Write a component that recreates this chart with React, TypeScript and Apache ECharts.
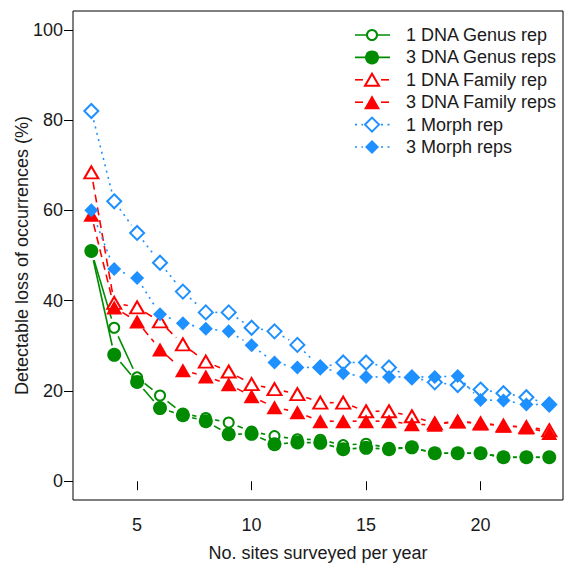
import React, { useEffect, useRef } from "react";
import * as echarts from "echarts";

const sitesPerYear = [3, 4, 5, 6, 7, 8, 9, 10, 11, 12, 13, 14, 15, 16, 17, 18, 19, 20, 21, 22, 23];
const genus1Rep = [51, 34, 23, 19, 15, 14, 13, 11, 10, 9.3, 9.2, 8, 8.3, 7.4, 7.4, 6.2, 6.2, 6.2, 5.3, 5.3, 5.3];
const genus3Reps = [51, 28, 22, 16.2, 14.6, 13.3, 10.4, 10.5, 8.2, 8.6, 8.5, 7.1, 7.4, 7.1, 7.5, 6.2, 6.2, 6.2, 5.3, 5.3, 5.3];
const family1Rep = [68.4, 39.5, 38.5, 35.4, 30.3, 26.5, 24.3, 21.5, 20.4, 19.3, 17.4, 17.4, 15.5, 15.5, 14.4, 12.8, 13.2, 12.8, 12.3, 12, 11.3];
const family3Reps = [59, 38.5, 35.4, 29.2, 24.6, 23.2, 21.5, 18.8, 16.4, 15.3, 13.3, 13.3, 13.3, 13.3, 12.6, 12.5, 13.3, 12.8, 12.3, 11.9, 10.7];
const morph1Rep = [82, 62, 55, 48.4, 42, 37.4, 37.4, 34, 33.2, 30.2, 25.2, 26.3, 26.3, 25.2, 23, 21.9, 21.3, 20.3, 19.5, 18.6, 17];
const morph3Reps = [60, 47, 45, 37, 35, 33.8, 33.2, 30.1, 26.3, 25.2, 25.2, 23.9, 23.1, 23.1, 23.1, 23.1, 23.3, 18, 17.9, 17, 17];

const xTicks = [5, 10, 15, 20];
const yTicks = [0, 20, 40, 60, 80, 100];

const GREEN = "#008B00";
const RED = "#FF0000";
const BLUE = "#1E90FF";
const TEXT = "#1a1a1a";
const FONT = 'Arial, "Liberation Sans", Helvetica, sans-serif';
const FS = 18;

type Spec = {
  name: string;
  values: number[];
  color: string;
  marker: "circle" | "triangle" | "diamond";
  filled: boolean;
  dash: number[] | null;
};

const specs: Spec[] = [
  { name: "1 DNA Genus rep", values: genus1Rep, color: GREEN, marker: "circle", filled: false, dash: null },
  { name: "3 DNA Genus reps", values: genus3Reps, color: GREEN, marker: "circle", filled: true, dash: null },
  { name: "1 DNA Family rep", values: family1Rep, color: RED, marker: "triangle", filled: false, dash: [8, 5] },
  { name: "3 DNA Family reps", values: family3Reps, color: RED, marker: "triangle", filled: true, dash: [8, 5] },
  { name: "1 Morph rep", values: morph1Rep, color: BLUE, marker: "diamond", filled: false, dash: [2, 4.5] },
  { name: "3 Morph reps", values: morph3Reps, color: BLUE, marker: "diamond", filled: true, dash: [2, 4.5] },
];

function symbolSizeFor(s: Spec): number | number[] {
  if (s.marker === "circle") return s.filled ? 14 : 10;
  if (s.marker === "triangle") return s.filled ? [16, 14] : [14, 12];
  return [14, 14];
}

const GAP = 9.5;

export default function App() {
  const ref = useRef<HTMLDivElement>(null);
  useEffect(() => {
    if (!ref.current) return;
    const chart = echarts.init(ref.current, null, { renderer: "svg" });
    const series: any[] = [];
    specs.forEach((s) => {
      const segs: number[][] = [];
      for (let i = 0; i < sitesPerYear.length - 1; i++) {
        segs.push([sitesPerYear[i], s.values[i], sitesPerYear[i + 1], s.values[i + 1]]);
      }
      series.push({
        type: "custom",
        name: s.name + " line",
        silent: true,
        encode: { x: [0, 2], y: [1, 3] },
        data: segs,
        renderItem: (params: any, api: any) => {
          const p1 = api.coord([api.value(0), api.value(1)]);
          const p2 = api.coord([api.value(2), api.value(3)]);
          const dx = p2[0] - p1[0];
          const dy = p2[1] - p1[1];
          const len = Math.sqrt(dx * dx + dy * dy);
          if (len <= 2 * GAP) return null;
          const ux = dx / len;
          const uy = dy / len;
          return {
            type: "line",
            shape: {
              x1: p1[0] + ux * GAP,
              y1: p1[1] + uy * GAP,
              x2: p2[0] - ux * GAP,
              y2: p2[1] - uy * GAP,
            },
            style: {
              stroke: s.color,
              lineWidth: 1.6,
              lineDash: s.dash || undefined,
              fill: null,
            },
          };
        },
      });
      series.push({
        type: "scatter",
        name: s.name,
        silent: true,
        symbol: s.marker,
        symbolSize: symbolSizeFor(s),
        data: sitesPerYear.map((x, i) => [x, s.values[i]]),
        itemStyle: s.filled
          ? { color: s.color, borderWidth: 0, opacity: 1 }
          : { color: "rgba(255,255,255,0)", borderColor: s.color, borderWidth: 2, opacity: 1 },
      });
    });

    // manual legend
    const legendGraphics: any[] = [];
    const lx1 = 355;
    const lx2 = 390;
    const mx = 372;
    const textX = 406;
    specs.forEach((s, i) => {
      const y = 35 + i * 22.4;
      if (s.dash) {
        legendGraphics.push({ type: "line", shape: { x1: lx1, y1: y, x2: mx - 9, y2: y }, style: { stroke: s.color, lineWidth: 1.6, lineDash: s.dash } });
        legendGraphics.push({ type: "line", shape: { x1: mx + 9, y1: y, x2: lx2, y2: y }, style: { stroke: s.color, lineWidth: 1.6, lineDash: s.dash } });
      } else {
        legendGraphics.push({ type: "line", shape: { x1: lx1, y1: y, x2: lx2, y2: y }, style: { stroke: s.color, lineWidth: 1.6 } });
      }
      const fillStyle = s.filled
        ? { fill: s.color, stroke: null }
        : { fill: "#fff", stroke: s.color, lineWidth: 2 };
      if (s.marker === "circle") {
        const r = s.filled ? 7 : 5;
        legendGraphics.push({ type: "circle", shape: { cx: mx, cy: y, r }, style: fillStyle });
      } else if (s.marker === "triangle") {
        const w = s.filled ? 16 : 14;
        const h = s.filled ? 14 : 12;
        legendGraphics.push({
          type: "polygon",
          shape: { points: [[mx, y - h / 2], [mx + w / 2, y + h / 2], [mx - w / 2, y + h / 2]] },
          style: fillStyle,
        });
      } else {
        const d = 7;
        legendGraphics.push({
          type: "polygon",
          shape: { points: [[mx, y - d], [mx + d, y], [mx, y + d], [mx - d, y]] },
          style: fillStyle,
        });
      }
      legendGraphics.push({
        type: "text",
        x: textX,
        y,
        style: { text: s.name, fill: TEXT, font: `${FS}px ${FONT}`, verticalAlign: "middle" },
      });
    });

    chart.setOption({
      animation: false,
      grid: {
        left: 73,
        top: 11,
        right: 6,
        bottom: 63,
        show: true,
        borderColor: "#000",
        borderWidth: 1,
        backgroundColor: "transparent",
        containLabel: false,
        outerBoundsMode: "none",
      },
      xAxis: {
        type: "value",
        min: 2.2,
        max: 23.6,
        name: "No. sites surveyed per year",
        nameLocation: "middle",
        nameGap: 44,
        nameMoveOverlap: false,
        nameTextStyle: { fontSize: FS, color: TEXT, fontFamily: FONT },
        axisLine: { show: false },
        splitLine: { show: false },
        axisTick: { show: true, length: 9, customValues: xTicks, lineStyle: { color: "#000", width: 1 } },
        axisLabel: { customValues: xTicks, fontSize: FS, color: TEXT, fontFamily: FONT, margin: 16 },
      },
      yAxis: {
        type: "value",
        min: -4.16,
        max: 104.16,
        name: "Detectable loss of occurrences (%)",
        nameLocation: "middle",
        nameGap: 42,
        nameMoveOverlap: false,
        nameRotate: 90,
        nameTextStyle: { fontSize: FS, color: TEXT, fontFamily: FONT },
        axisLine: { show: false },
        splitLine: { show: false },
        axisTick: { show: true, length: 9, customValues: yTicks, lineStyle: { color: "#000", width: 1 } },
        axisLabel: { customValues: yTicks, fontSize: FS, color: TEXT, fontFamily: FONT, margin: 10 },
      },
      graphic: legendGraphics,
      series,
    });
    return () => chart.dispose();
  }, []);
  return <div ref={ref} style={{ width: 569, height: 563, position: "absolute", left: 0, top: 0 }} />;
}
